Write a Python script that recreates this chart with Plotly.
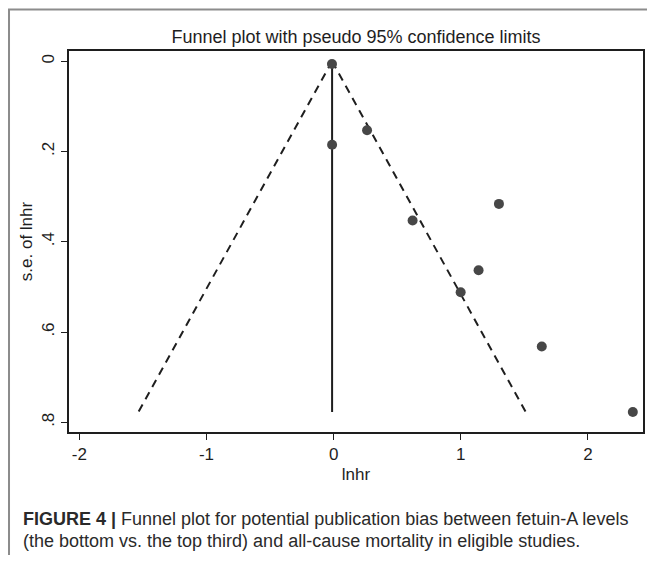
import plotly.graph_objects as go

# ---- data ----
lnhr = [-0.013, 0.263, -0.012, 1.300, 0.621, 1.140, 0.999, 1.637, 2.353]
se_lnhr = [0.006, 0.153, 0.185, 0.316, 0.353, 0.463, 0.512, 0.632, 0.777]
pooled_lnhr = -0.012
z95 = 1.96
x_tick_vals = [-2, -1, 0, 1, 2]
x_tick_text = ["-2", "-1", "0", "1", "2"]
y_tick_vals = [0, 0.2, 0.4, 0.6, 0.8]
y_tick_text = ["0", ".2", ".4", ".6", ".8"]

title_text = "Funnel plot with pseudo 95% confidence limits"
caption_1 = "<b>FIGURE 4 |</b> Funnel plot for potential publication bias between fetuin-A levels"
caption_2 = "(the bottom vs. the top third) and all-cause mortality in eligible studies."

se_max = max(se_lnhr)
lo_x = [pooled_lnhr, pooled_lnhr - z95 * se_max]
hi_x = [pooled_lnhr, pooled_lnhr + z95 * se_max]
ci_y = [0, se_max]

# ---- layout geometry ----
# The page body has an 8px default margin, so figure pixels = page pixels - 8.
OFF = 8
W, H = 646, 547
L, R, T, B = 61, 9, 43, 123
pw, ph = W - L - R, H - T - B


def px_x(page_px):
    return (page_px - OFF - L) / pw


def px_y(page_px):
    return (H - B - (page_px - OFF)) / ph


FONT = "Liberation Sans, Arial, Helvetica, sans-serif"
INK = "#1e1e1e"

fig = go.Figure()
fig.add_trace(go.Scatter(x=lo_x, y=ci_y, mode="lines",
                         line=dict(color=INK, width=2, dash="8px,6px"),
                         hoverinfo="skip", showlegend=False))
fig.add_trace(go.Scatter(x=hi_x, y=ci_y, mode="lines",
                         line=dict(color=INK, width=2, dash="8px,6px"),
                         hoverinfo="skip", showlegend=False))
fig.add_trace(go.Scatter(x=[pooled_lnhr, pooled_lnhr], y=ci_y, mode="lines",
                         line=dict(color=INK, width=2),
                         hoverinfo="skip", showlegend=False))
fig.add_trace(go.Scatter(x=lnhr, y=se_lnhr, mode="markers",
                         marker=dict(color="#474747", size=10),
                         showlegend=False))

axis_common = dict(
    showline=True, mirror=True, linecolor=INK, linewidth=1.6,
    ticks="outside", ticklen=6, tickwidth=1.2, tickcolor=INK,
    showgrid=False, zeroline=False,
    tickfont=dict(family=FONT, size=17, color=INK),
)

fig.update_layout(
    width=W, height=H,
    margin=dict(l=L, r=R, t=T, b=B),
    paper_bgcolor="white", plot_bgcolor="white",
    title=dict(text=title_text, x=0.5, xref="paper", y=1 - (37 - OFF) / H,
               yref="container", xanchor="center", yanchor="middle",
               font=dict(family=FONT, size=18, color=INK)),
    xaxis=dict(range=[-2.081, 2.433], tickvals=x_tick_vals, ticktext=x_tick_text,
               title=dict(text="lnhr", font=dict(family=FONT, size=17, color=INK), standoff=5),
               **axis_common),
    yaxis=dict(range=[0.8215, -0.0228], tickvals=y_tick_vals, ticktext=y_tick_text,
               tickangle=-90,
               title=dict(text="s.e. of lnhr", font=dict(family=FONT, size=17, color=INK), standoff=2),
               **axis_common),
    shapes=[dict(type="rect", xref="paper", yref="paper",
                 x0=px_x(8.8), x1=px_x(900), y0=px_y(9.5), y1=px_y(900),
                 line=dict(color="#8c8c8c", width=2), fillcolor="rgba(0,0,0,0)",
                 layer="below")],
    annotations=[
        dict(text=caption_1, xref="paper", yref="paper", x=px_x(21), y=px_y(519),
             xanchor="left", yanchor="middle", showarrow=False, align="left",
             font=dict(family=FONT, size=18, color="#2a2a2a")),
        dict(text=caption_2, xref="paper", yref="paper", x=px_x(21), y=px_y(541),
             xanchor="left", yanchor="middle", showarrow=False, align="left",
             font=dict(family=FONT, size=18, color="#2a2a2a")),
    ],
)

fig.write_html("out.html")
